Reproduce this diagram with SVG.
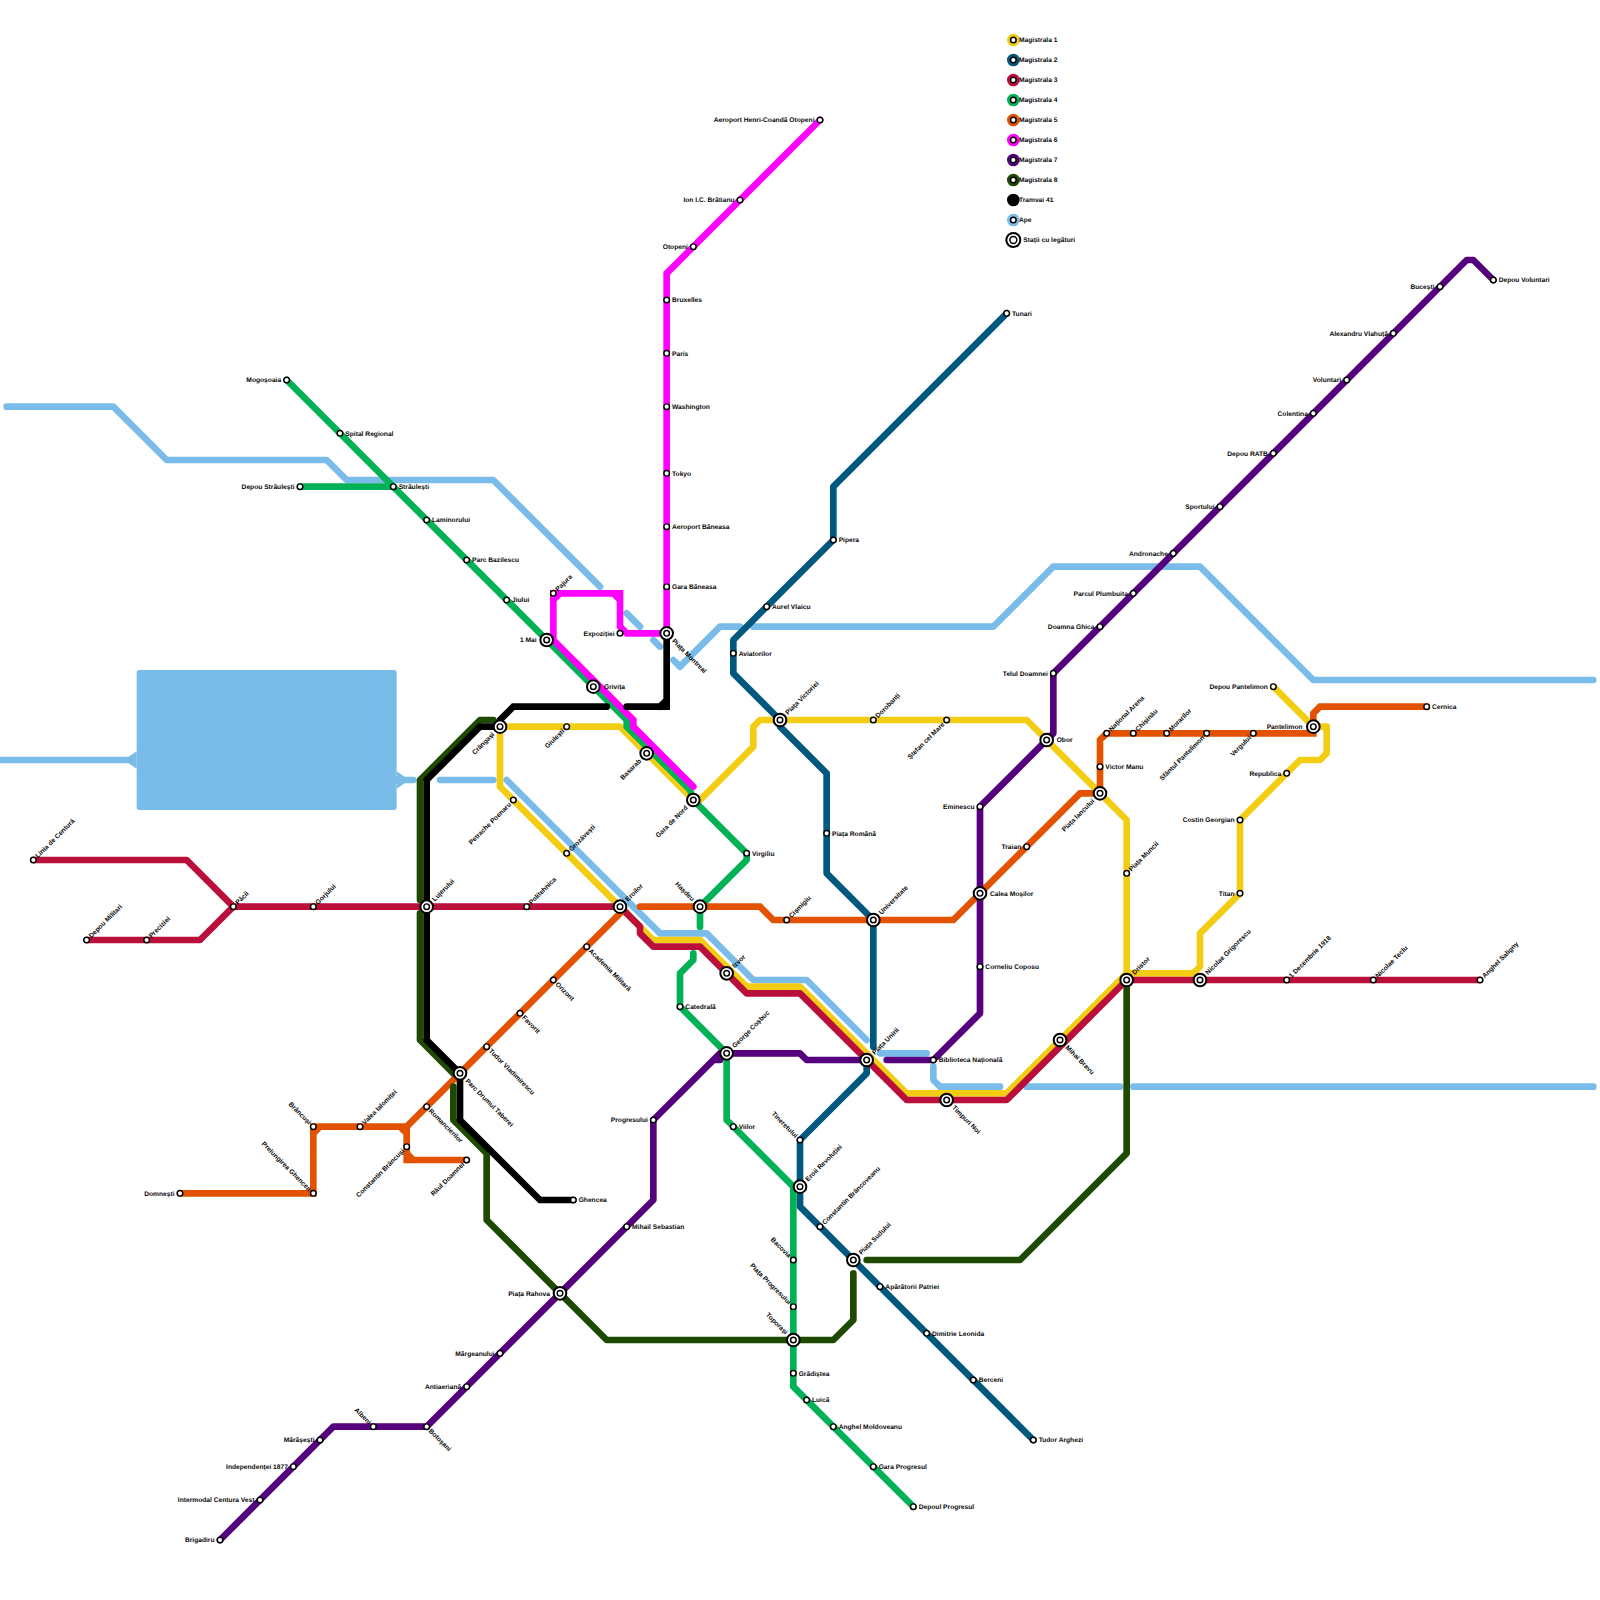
<svg xmlns="http://www.w3.org/2000/svg" width="1600" height="1600" viewBox="0 0 1600 1600">
<style>
text{font-family:"Liberation Sans",Arial,sans-serif;font-size:1px;font-weight:700;fill:#000;opacity:.97;text-rendering:geometricPrecision}
.e{text-anchor:end}
.p{fill:none;stroke-width:1;stroke-linecap:round;stroke-linejoin:round}
.q{stroke-linejoin:miter}
.w{stroke:#7abce9}.y{stroke:#f2cd14}.b{stroke:#00587f}.r{stroke:#bb0f3b}.g{stroke:#00b156}.o{stroke:#e25200}.m{stroke:#ff00ff}.v{stroke:#55007d}.d{stroke:#1d4a00}.k{stroke:#000}
.s{fill:#fff;stroke:#000;stroke-width:.22}
.i{fill:#fff;stroke:#000;stroke-width:.3}
</style>
<defs>
<circle id="st" class="s" r=".42"/>
<circle id="ic" class="i" r=".95"/>
</defs>
<rect width="1600" height="1600" fill="#fff"/>
<g transform="scale(6.66667)">
<g id="water">
<rect x="20.5" y="100.5" width="39" height="21" rx=".4" fill="#7abce9"/>
<polygon points="20.5,112.7 19.3,113.5 19.3,114.5 20.5,115.3" fill="#7abce9"/>
<polygon points="59.5,115.7 60.7,116.5 60.7,117.5 59.5,118.3" fill="#7abce9"/>
<path class="p w" d="M0 114H20M59 117H62M66 117H74M76 117L99 140H106L113 147H121L130 156M132 158H139M140 160V162L141 163H150M154 163H168M170 163H239"/>
<path class="p w" d="M1 61H17L25 69H49L52 72H74L90 88M94 92L96 94M98 96L99 97M101 99L102 100L108 94H111M113 94H149L158 85H180L197 102H239"/>
</g>
<g id="connectors">
<path id="m1" class="p y" d="M75 109H93L104 120H105L113 112V109L114 108H154L169 123V146L170 146H179L180 145V140L186 134V123L195 114H198L199 113V109H197L191 103M75 109V118L97 140L98 141H105L112 148H120L136 164H151L169 146"/>
<path id="m2" class="p b" d="M151 47L125 73V81L110 96V101L117 108V109L124 116V131L131 138V157M130 159V161L120 171V181L155 216"/>
<path id="m3" class="p r" d="M5 129H28L35 136H93L96 139V140L98 142H105L112 149H120L136 165H151L169 147H222M13 141H30L35 136"/>
<path id="m4" class="p g" d="M43 57L94 108V109L103.500 118.500L104 120L112 128V129L105 136V139M104 143V144L102 146V151L109 158V168L119 178V208L137 226M45 73H59"/>
<path id="m5" class="p o q" d="M27 179H47V169H61L93 137L93 136M61 169V174H70M96 136H114L116 138H143L162 119H165V111L166 110H197V107L198 106H214M47 170L48 169M60 169L61 170M61 173L62 174"/>
<path id="m6" class="p m q" d="M83 96V89H93V94L94 95H100V41L123 18M83 96L95 108V109L104 118M83 90L84 89M92 89L93 90"/>
<path id="m7" class="p v" d="M33 231L50 214H64L98 180V168L108 158V159H107L108 158H120L121 159H130M133 159H140L147 152V121L158 110V101L220 39H221L224 42"/>
<path id="m8" class="p d" d="M74 108H72L63 117V135M63 137V156L68 161M68 163V168L73 173V183L91 201H125L128 198V191M130 189H153L169 173V147"/>
<path id="t41" class="p k q" d="M86 180H81L69 168V161L64 156V117L72 109H75V108L77 106H91M94 106H100V95M99 106L100 105"/>
</g>
<g id="stations">
<g id="n-cringasi"><use href="#ic" x="75" y="109"/><use href="#st" x="75" y="109"/><text class="e" x="73.600" y="109.330" transform="rotate(-45 75 109)">Crângași</text></g>
<g id="n-giulesti"><use href="#st" x="85" y="109"/><text class="e" x="84.300" y="109.330" transform="rotate(-45 85 109)">Giulești</text></g>
<g id="n-petrache"><use href="#st" x="77" y="120"/><text class="e" x="76.300" y="120.330" transform="rotate(-45 77 120)">Petrache Poenaru</text></g>
<g id="n-grozavesti"><use href="#st" x="85" y="128"/><text x="85.700" y="128.330" transform="rotate(-45 85 128)">Grozăvești</text></g>
<g id="n-eroilor"><use href="#ic" x="93" y="136"/><use href="#st" x="93" y="136"/><text x="94.400" y="136.330" transform="rotate(-45 93 136)">Eroilor</text></g>
<g id="n-basarab"><use href="#ic" x="97" y="113"/><use href="#st" x="97" y="113"/><text class="e" x="95.600" y="113.330" transform="rotate(-45 97 113)">Basarab</text></g>
<g id="n-garadenord"><use href="#ic" x="104" y="120"/><use href="#st" x="104" y="120"/><text class="e" x="102.600" y="120.330" transform="rotate(-45 104 120)">Gara de Nord</text></g>
<g id="n-izvor"><use href="#ic" x="109" y="146"/><use href="#st" x="109" y="146"/><text x="110.400" y="146.330" transform="rotate(-45 109 146)">Izvor</text></g>
<g id="n-unirii"><use href="#ic" x="130" y="159"/><use href="#st" x="130" y="159"/><text x="131.400" y="159.330" transform="rotate(-45 130 159)">Piața Unirii</text></g>
<g id="n-timpurinoi"><use href="#ic" x="142" y="165"/><use href="#st" x="142" y="165"/><text x="143.400" y="165.330" transform="rotate(45 142 165)">Timpuri Noi</text></g>
<g id="n-mihaibravu"><use href="#ic" x="159" y="156"/><use href="#st" x="159" y="156"/><text x="160.400" y="156.330" transform="rotate(45 159 156)">Mihai Bravu</text></g>
<g id="n-dristor"><use href="#ic" x="169" y="147"/><use href="#st" x="169" y="147"/><text x="170.400" y="147.330" transform="rotate(-45 169 147)">Dristor</text></g>
<g id="n-grigorescu"><use href="#ic" x="180" y="147"/><use href="#st" x="180" y="147"/><text x="181.400" y="147.330" transform="rotate(-45 180 147)">Nicolae Grigorescu</text></g>
<g id="n-muncii"><use href="#st" x="169" y="131"/><text x="169.700" y="131.330" transform="rotate(-45 169 131)">Piața Muncii</text></g>
<g id="n-iancului"><use href="#ic" x="165" y="119"/><use href="#st" x="165" y="119"/><text class="e" x="163.600" y="119.330" transform="rotate(-45 165 119)">Piața Iancului</text></g>
<g id="n-obor"><use href="#ic" x="157" y="111"/><use href="#st" x="157" y="111"/><text x="158.500" y="111.330">Obor</text></g>
<g id="n-stefan"><use href="#st" x="142" y="108"/><text class="e" x="141.300" y="108.330" transform="rotate(-45 142 108)">Ștefan cel Mare</text></g>
<g id="n-dorobanti"><use href="#st" x="131" y="108"/><text x="131.700" y="108.330" transform="rotate(-45 131 108)">Dorobanți</text></g>
<g id="n-victoriei"><use href="#ic" x="117" y="108"/><use href="#st" x="117" y="108"/><text x="118.400" y="108.330" transform="rotate(-45 117 108)">Piața Victoriei</text></g>
<g id="n-titan"><use href="#st" x="186" y="134"/><text class="e" x="185.200" y="134.330">Titan</text></g>
<g id="n-costin"><use href="#st" x="186" y="123"/><text class="e" x="185.200" y="123.330">Costin Georgian</text></g>
<g id="n-republica"><use href="#st" x="193" y="116"/><text class="e" x="192.200" y="116.330">Republica</text></g>
<g id="n-pantelimon"><use href="#ic" x="197" y="109"/><use href="#st" x="197" y="109"/><text class="e" x="195.400" y="109.330">Pantelimon</text></g>
<g id="n-depoupantelimon"><use href="#st" x="191" y="103"/><text class="e" x="190.200" y="103.330">Depou Pantelimon</text></g>
<g id="n-montreal"><use href="#ic" x="100" y="95"/><use href="#st" x="100" y="95"/><text x="101.400" y="95.330" transform="rotate(45 100 95)">Piața Montreal</text></g>
<g id="n-grivita"><use href="#ic" x="89" y="103"/><use href="#st" x="89" y="103"/><text x="90.600" y="103.330">Grivița</text></g>
<g id="n-1mai"><use href="#ic" x="82" y="96"/><use href="#st" x="82" y="96"/><text class="e" x="80.500" y="96.330">1 Mai</text></g>
<g id="n-pajura"><use href="#st" x="83" y="89"/><text x="83.700" y="89.330" transform="rotate(-45 83 89)">Pajura</text></g>
<g id="n-expozitiei"><use href="#st" x="93" y="95"/><text class="e" x="92.200" y="95.330">Expoziției</text></g>
<g id="n-garabaneasa"><use href="#st" x="100" y="88"/><text x="100.800" y="88.330">Gara Băneasa</text></g>
<g id="n-aeroportbaneasa"><use href="#st" x="100" y="79"/><text x="100.800" y="79.330">Aeroport Băneasa</text></g>
<g id="n-tokyo"><use href="#st" x="100" y="71"/><text x="100.800" y="71.330">Tokyo</text></g>
<g id="n-washington"><use href="#st" x="100" y="61"/><text x="100.800" y="61.330">Washington</text></g>
<g id="n-paris"><use href="#st" x="100" y="53"/><text x="100.800" y="53.330">Paris</text></g>
<g id="n-bruxelles"><use href="#st" x="100" y="45"/><text x="100.800" y="45.330">Bruxelles</text></g>
<g id="n-otopeni"><use href="#st" x="104" y="37"/><text class="e" x="103.200" y="37.330">Otopeni</text></g>
<g id="n-bratianu"><use href="#st" x="111" y="30"/><text class="e" x="110.200" y="30.330">Ion I.C. Brătianu</text></g>
<g id="n-coanda"><use href="#st" x="123" y="18"/><text class="e" x="122.200" y="18.330">Aeroport Henri-Coandă Otopeni</text></g>
<g id="n-hasdeu"><use href="#ic" x="105" y="136"/><use href="#st" x="105" y="136"/><text class="e" x="103.600" y="136.330" transform="rotate(45 105 136)">Hașdeu</text></g>
<g id="n-cismigiu"><use href="#st" x="118" y="138"/><text x="118.700" y="138.330" transform="rotate(-45 118 138)">Cișmigiu</text></g>
<g id="n-universitate"><use href="#ic" x="131" y="138"/><use href="#st" x="131" y="138"/><text x="132.400" y="138.330" transform="rotate(-45 131 138)">Universitate</text></g>
<g id="n-mosilor"><use href="#ic" x="147" y="134"/><use href="#st" x="147" y="134"/><text x="148.500" y="134.330">Calea Moșilor</text></g>
<g id="n-coposu"><use href="#st" x="147" y="145"/><text x="147.800" y="145.330">Corneliu Coposu</text></g>
<g id="n-catedrala"><use href="#st" x="102" y="151"/><text x="102.800" y="151.330">Catedrală</text></g>
<g id="n-cosbuc"><use href="#ic" x="109" y="158"/><use href="#st" x="109" y="158"/><text x="110.400" y="158.330" transform="rotate(-45 109 158)">George Coșbuc</text></g>
<g id="n-biblioteca"><use href="#st" x="140" y="159"/><text x="140.800" y="159.330">Biblioteca Națională</text></g>
<g id="n-progresului"><use href="#st" x="98" y="168"/><text class="e" x="97.200" y="168.330">Progresului</text></g>
<g id="n-viilor"><use href="#st" x="110" y="169"/><text x="110.800" y="169.330">Viilor</text></g>
<g id="n-tineretului"><use href="#st" x="120" y="171"/><text class="e" x="119.300" y="171.330" transform="rotate(45 120 171)">Tineretului</text></g>
<g id="n-eroiirevolutiei"><use href="#ic" x="120" y="178"/><use href="#st" x="120" y="178"/><text x="121.400" y="178.330" transform="rotate(-45 120 178)">Eroii Revoluției</text></g>
<g id="n-brancoveanu"><use href="#st" x="123" y="184"/><text x="123.700" y="184.330" transform="rotate(-45 123 184)">Constantin Brâncoveanu</text></g>
<g id="n-sebastian"><use href="#st" x="94" y="184"/><text x="94.800" y="184.330">Mihail Sebastian</text></g>
<g id="n-sudului"><use href="#ic" x="128" y="189"/><use href="#st" x="128" y="189"/><text x="129.400" y="189.330" transform="rotate(-45 128 189)">Piața Sudului</text></g>
<g id="n-taberei"><use href="#ic" x="69" y="161"/><use href="#st" x="69" y="161"/><text x="70.400" y="161.330" transform="rotate(45 69 161)">Parc Drumul Taberei</text></g>
<g id="n-vladimirescu"><use href="#st" x="73" y="157"/><text x="73.700" y="157.330" transform="rotate(45 73 157)">Tudor Vladimirescu</text></g>
<g id="n-favorit"><use href="#st" x="78" y="152"/><text x="78.700" y="152.330" transform="rotate(45 78 152)">Favorit</text></g>
<g id="n-orizont"><use href="#st" x="83" y="147"/><text x="83.700" y="147.330" transform="rotate(45 83 147)">Orizont</text></g>
<g id="n-academia"><use href="#st" x="88" y="142"/><text x="88.700" y="142.330" transform="rotate(45 88 142)">Academia Militară</text></g>
<g id="n-romancierilor"><use href="#st" x="64" y="166"/><text x="64.700" y="166.330" transform="rotate(45 64 166)">Romancierilor</text></g>
<g id="n-ialomitei"><use href="#st" x="54" y="169"/><text x="54.700" y="169.330" transform="rotate(-45 54 169)">Valea Ialomiței</text></g>
<g id="n-brancusi"><use href="#st" x="47" y="169"/><text class="e" x="46.300" y="169.330" transform="rotate(45 47 169)">Brâncuși</text></g>
<g id="n-ghenceaprel"><use href="#st" x="47" y="179"/><text class="e" x="46.300" y="179.330" transform="rotate(45 47 179)">Prelungirea Ghencea</text></g>
<g id="n-cbrancusi"><use href="#st" x="61" y="172"/><text class="e" x="60.300" y="172.330" transform="rotate(-45 61 172)">Constantin Brâncuși</text></g>
<g id="n-raul"><use href="#st" x="70" y="174"/><text class="e" x="69.300" y="174.330" transform="rotate(-45 70 174)">Râul Doamnei</text></g>
<g id="n-ghencea"><use href="#st" x="86" y="180"/><text x="86.800" y="180.330">Ghencea</text></g>
<g id="n-rahova"><use href="#ic" x="84" y="194"/><use href="#st" x="84" y="194"/><text class="e" x="82.500" y="194.330">Piața Rahova</text></g>
<g id="n-margeanului"><use href="#st" x="75" y="203"/><text class="e" x="74.200" y="203.330">Mărgeanului</text></g>
<g id="n-antiaeriana"><use href="#st" x="70" y="208"/><text class="e" x="69.200" y="208.330">Antiaeriană</text></g>
<g id="n-botosani"><use href="#st" x="64" y="214"/><text x="64.700" y="214.330" transform="rotate(45 64 214)">Botoșani</text></g>
<g id="n-albeni"><use href="#st" x="56" y="214"/><text class="e" x="55.300" y="214.330" transform="rotate(45 56 214)">Albeni</text></g>
<g id="n-marasesti"><use href="#st" x="48" y="216"/><text class="e" x="47.200" y="216.330">Mărășești</text></g>
<g id="n-independentei"><use href="#st" x="44" y="220"/><text class="e" x="43.200" y="220.330">Independenței 1877</text></g>
<g id="n-intermodal"><use href="#st" x="39" y="225"/><text class="e" x="38.200" y="225.330">Intermodal Centura Vest</text></g>
<g id="n-brigadiru"><use href="#st" x="33" y="231"/><text class="e" x="32.200" y="231.330">Brigadiru</text></g>
<g id="n-bacovia"><use href="#st" x="119" y="189"/><text class="e" x="118.300" y="189.330" transform="rotate(45 119 189)">Bacovia</text></g>
<g id="n-progres"><use href="#st" x="119" y="196"/><text class="e" x="118.300" y="196.330" transform="rotate(45 119 196)">Piața Progresului</text></g>
<g id="n-toporasi"><use href="#ic" x="119" y="201"/><use href="#st" x="119" y="201"/><text class="e" x="117.600" y="201.330" transform="rotate(45 119 201)">Toporași</text></g>
<g id="n-gradistea"><use href="#st" x="119" y="206"/><text x="119.800" y="206.330">Grădiștea</text></g>
<g id="n-luica"><use href="#st" x="121" y="210"/><text x="121.800" y="210.330">Luică</text></g>
<g id="n-moldoveanu"><use href="#st" x="125" y="214"/><text x="125.800" y="214.330">Anghel Moldoveanu</text></g>
<g id="n-garaprogresul"><use href="#st" x="131" y="220"/><text x="131.800" y="220.330">Gara Progresul</text></g>
<g id="n-depoulprogresul"><use href="#st" x="137" y="226"/><text x="137.800" y="226.330">Depoul Progresul</text></g>
<g id="n-aparatorii"><use href="#st" x="132" y="193"/><text x="132.800" y="193.330">Apărătorii Patriei</text></g>
<g id="n-leonida"><use href="#st" x="139" y="200"/><text x="139.800" y="200.330">Dimitrie Leonida</text></g>
<g id="n-berceni"><use href="#st" x="146" y="207"/><text x="146.800" y="207.330">Berceni</text></g>
<g id="n-arghezi"><use href="#st" x="155" y="216"/><text x="155.800" y="216.330">Tudor Arghezi</text></g>
<g id="n-tunari"><use href="#st" x="151" y="47"/><text x="151.800" y="47.330">Tunari</text></g>
<g id="n-pipera"><use href="#st" x="125" y="81"/><text x="125.800" y="81.330">Pipera</text></g>
<g id="n-vlaicu"><use href="#st" x="115" y="91"/><text x="115.800" y="91.330">Aurel Vlaicu</text></g>
<g id="n-aviatorilor"><use href="#st" x="110" y="98"/><text x="110.800" y="98.330">Aviatorilor</text></g>
<g id="n-romana"><use href="#st" x="124" y="125"/><text x="124.800" y="125.330">Piața Română</text></g>
<g id="n-arena"><use href="#st" x="166" y="110"/><text x="166.700" y="110.330" transform="rotate(-45 166 110)">Național Arena</text></g>
<g id="n-chisinau"><use href="#st" x="170" y="110"/><text x="170.700" y="110.330" transform="rotate(-45 170 110)">Chișinău</text></g>
<g id="n-morarilor"><use href="#st" x="175" y="110"/><text x="175.700" y="110.330" transform="rotate(-45 175 110)">Morarilor</text></g>
<g id="n-sfantul"><use href="#st" x="181" y="110"/><text class="e" x="180.300" y="110.330" transform="rotate(-45 181 110)">Sfântul Pantelimon</text></g>
<g id="n-vergului"><use href="#st" x="188" y="110"/><text class="e" x="187.300" y="110.330" transform="rotate(-45 188 110)">Vergului</text></g>
<g id="n-manu"><use href="#st" x="165" y="115"/><text x="165.800" y="115.330">Victor Manu</text></g>
<g id="n-cernica"><use href="#st" x="214" y="106"/><text x="214.800" y="106.330">Cernica</text></g>
<g id="n-telul"><use href="#st" x="158" y="101"/><text class="e" x="157.200" y="101.330">Telul Doamnei</text></g>
<g id="n-eminescu"><use href="#st" x="147" y="121"/><text class="e" x="146.200" y="121.330">Eminescu</text></g>
<g id="n-traian"><use href="#st" x="154" y="127"/><text class="e" x="153.200" y="127.330">Traian</text></g>
<g id="n-ghica"><use href="#st" x="165" y="94"/><text class="e" x="164.200" y="94.330">Doamna Ghica</text></g>
<g id="n-plumbuita"><use href="#st" x="170" y="89"/><text class="e" x="169.200" y="89.330">Parcul Plumbuita</text></g>
<g id="n-andronache"><use href="#st" x="176" y="83"/><text class="e" x="175.200" y="83.330">Andronache</text></g>
<g id="n-sportului"><use href="#st" x="183" y="76"/><text class="e" x="182.200" y="76.330">Sportului</text></g>
<g id="n-ratb"><use href="#st" x="191" y="68"/><text class="e" x="190.200" y="68.330">Depou RATB</text></g>
<g id="n-colentina"><use href="#st" x="197" y="62"/><text class="e" x="196.200" y="62.330">Colentina</text></g>
<g id="n-voluntari"><use href="#st" x="202" y="57"/><text class="e" x="201.200" y="57.330">Voluntari</text></g>
<g id="n-vlahuta"><use href="#st" x="209" y="50"/><text class="e" x="208.200" y="50.330">Alexandru Vlahuță</text></g>
<g id="n-bucesti"><use href="#st" x="216" y="43"/><text class="e" x="215.200" y="43.330">Bucești</text></g>
<g id="n-depouvoluntari"><use href="#st" x="224" y="42"/><text x="224.800" y="42.330">Depou Voluntari</text></g>
<g id="n-politehnica"><use href="#st" x="79" y="136"/><text x="79.700" y="136.330" transform="rotate(-45 79 136)">Politehnica</text></g>
<g id="n-gorjului"><use href="#st" x="47" y="136"/><text x="47.700" y="136.330" transform="rotate(-45 47 136)">Gorjului</text></g>
<g id="n-pacii"><use href="#st" x="35" y="136"/><text x="35.700" y="136.330" transform="rotate(-45 35 136)">Păcii</text></g>
<g id="n-preciziei"><use href="#st" x="22" y="141"/><text x="22.700" y="141.330" transform="rotate(-45 22 141)">Preciziei</text></g>
<g id="n-militari"><use href="#st" x="13" y="141"/><text x="13.700" y="141.330" transform="rotate(-45 13 141)">Depou Militari</text></g>
<g id="n-centura"><use href="#st" x="5" y="129"/><text x="5.700" y="129.330" transform="rotate(-45 5 129)">Linia de Centură</text></g>
<g id="n-domnesti"><use href="#st" x="27" y="179"/><text class="e" x="26.200" y="179.330">Domnești</text></g>
<g id="n-mogosoaia"><use href="#st" x="43" y="57"/><text class="e" x="42.200" y="57.330">Mogoșoaia</text></g>
<g id="n-spital"><use href="#st" x="51" y="65"/><text x="51.800" y="65.330">Spital Regional</text></g>
<g id="n-depoustraulesti"><use href="#st" x="45" y="73"/><text class="e" x="44.200" y="73.330">Depou Străulești</text></g>
<g id="n-straulesti"><use href="#st" x="59" y="73"/><text x="59.800" y="73.330">Străulești</text></g>
<g id="n-laminorului"><use href="#st" x="64" y="78"/><text x="64.800" y="78.330">Laminorului</text></g>
<g id="n-bazilescu"><use href="#st" x="70" y="84"/><text x="70.800" y="84.330">Parc Bazilescu</text></g>
<g id="n-jiului"><use href="#st" x="76" y="90"/><text x="76.800" y="90.330">Jiului</text></g>
<g id="n-lujerului"><use href="#ic" x="64" y="136"/><use href="#st" x="64" y="136"/><text x="65.400" y="136.330" transform="rotate(-45 64 136)">Lujerului</text></g>
<g id="n-virgiliu"><use href="#st" x="112" y="128"/><text x="112.800" y="128.330">Virgiliu</text></g>
<g id="n-1dec"><use href="#st" x="193" y="147"/><text x="193.700" y="147.330" transform="rotate(-45 193 147)">1 Decembrie 1918</text></g>
<g id="n-teclu"><use href="#st" x="206" y="147"/><text x="206.700" y="147.330" transform="rotate(-45 206 147)">Nicolae Teclu</text></g>
<g id="n-saligny"><use href="#st" x="222" y="147"/><text x="222.700" y="147.330" transform="rotate(-45 222 147)">Anghel Saligny</text></g>
</g>
<g id="legend">
<g id="lg-1"><circle cx="152" cy="6" r=".95" fill="#f2cd14"/><use href="#st" x="152" y="6"/><text x="152.850" y="6.330">Magistrala 1</text></g>
<g id="lg-2"><circle cx="152" cy="9" r=".95" fill="#00587f"/><use href="#st" x="152" y="9"/><text x="152.850" y="9.330">Magistrala 2</text></g>
<g id="lg-3"><circle cx="152" cy="12" r=".95" fill="#bb0f3b"/><use href="#st" x="152" y="12"/><text x="152.850" y="12.330">Magistrala 3</text></g>
<g id="lg-4"><circle cx="152" cy="15" r=".95" fill="#00b156"/><use href="#st" x="152" y="15"/><text x="152.850" y="15.330">Magistrala 4</text></g>
<g id="lg-5"><circle cx="152" cy="18" r=".95" fill="#e25200"/><use href="#st" x="152" y="18"/><text x="152.850" y="18.330">Magistrala 5</text></g>
<g id="lg-6"><circle cx="152" cy="21" r=".95" fill="#ff00ff"/><use href="#st" x="152" y="21"/><text x="152.850" y="21.330">Magistrala 6</text></g>
<g id="lg-7"><circle cx="152" cy="24" r=".95" fill="#55007d"/><use href="#st" x="152" y="24"/><text x="152.850" y="24.330">Magistrala 7</text></g>
<g id="lg-8"><circle cx="152" cy="27" r=".95" fill="#1d4a00"/><use href="#st" x="152" y="27"/><text x="152.850" y="27.330">Magistrala 8</text></g>
<g id="lg-t"><circle cx="152" cy="30" r=".95" fill="#000"/><text x="152.850" y="30.330">Tramvai 41</text></g>
<g id="lg-w"><circle cx="152" cy="33" r=".95" fill="#7abce9"/><use href="#st" x="152" y="33"/><text x="152.850" y="33.330">Ape</text></g>
<g id="lg-i"><circle class="i" cx="152" cy="36" r="1.05"/><circle class="s" cx="152" cy="36" r=".52"/><text x="153.500" y="36.330">Stații cu legături</text></g>
</g>
</g>
</svg>
